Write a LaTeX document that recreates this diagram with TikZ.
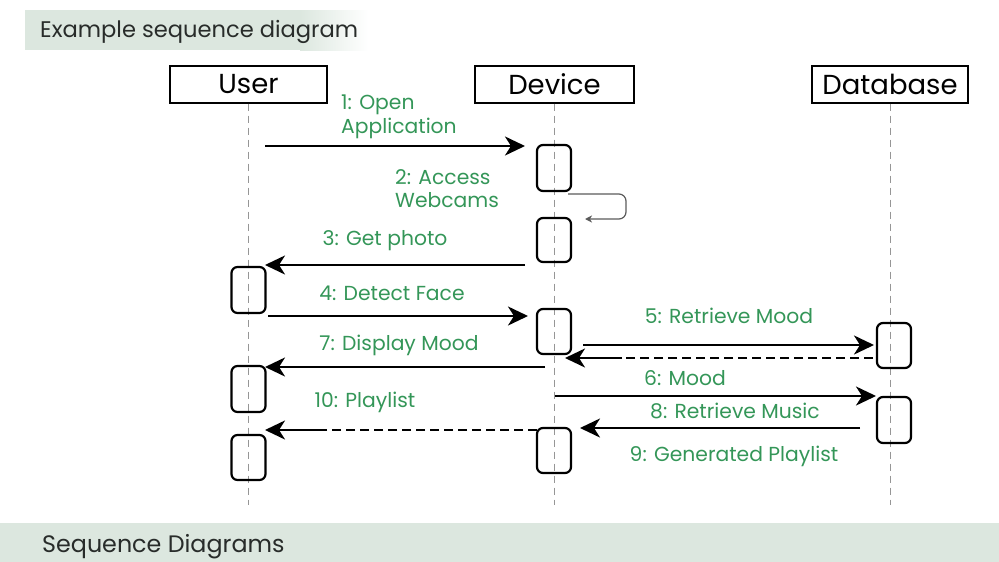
\documentclass[tikz,border=0pt]{standalone}
\usepackage{fontspec}
\setmainfont{Poppins}
\usetikzlibrary{arrows.meta}
\definecolor{lblgreen}{RGB}{52,150,88}
\definecolor{bandgreen}{RGB}{220,231,223}
\definecolor{lifegray}{RGB}{150,150,150}
\definecolor{selfgray}{RGB}{90,90,90}
\definecolor{headtext}{RGB}{40,44,42}
\tikzset{
  part/.style={draw, line width=1.4pt, minimum height=37pt, inner sep=0pt, font=\fontsize{27.5}{30}\selectfont},
  act/.style={draw, line width=2.2pt, rounded corners=6pt, minimum width=34pt, minimum height=45pt, inner sep=0pt},
  life/.style={draw=lifegray, line width=0.9pt, dash pattern=on 7pt off 5pt},
  msg/.style={line width=2.4pt, -{Stealth[length=20pt,width=19pt,inset=6pt]}},
  rmsg/.style={line width=2.4pt, dash pattern=on 9pt off 5pt},
  selfmsg/.style={draw=selfgray, line width=1.2pt, rounded corners=7pt, -{Stealth[length=7pt,width=7pt,inset=2pt]}},
  lbl/.style={text=lblgreen, font=\fontsize{20.3}{24}\selectfont, inner sep=0pt},
  head/.style={text=headtext, inner sep=0pt, anchor=base west}
}
\begin{document}
\begin{tikzpicture}[x=1pt,y=-1pt]
\useasboundingbox (0,0) rectangle (999,562);
% bands
\fill[bandgreen] (25,10) rectangle (300,50);
\shade[left color=bandgreen, right color=white] (300,10) rectangle (368,50);
\fill[bandgreen] (0,523) rectangle (999,562);
\node[head, font=\fontsize{22.6}{26}\selectfont] (title) at (40,37) {Example sequence diagram};
\node[head, font=\fontsize{23.8}{26}\selectfont] (footer) at (42,552) {Sequence Diagrams};
% participants
\node[part, minimum width=157pt] (user) at (248.5,84.5) {User};
\node[part, minimum width=159pt] (device) at (554.5,84.5) {Device};
\node[part, minimum width=156pt] (db) at (890,84.5) {Database};
% lifelines
\coordinate (uEnd) at (248.5,505);
\coordinate (dEnd) at (554.5,505);
\coordinate (bEnd) at (890,505);
\draw[life] (user) -- (uEnd);
\draw[life] (device) -- (dEnd);
\draw[life] (db) -- (bEnd);
% activations
\node[act, minimum height=46pt] (dA1) at (554,168) {};
\node[act, minimum height=44pt] (dA2) at (554,240) {};
\node[act, minimum height=46pt] (uA1) at (248.5,290) {};
\node[act] (dA3) at (554,331.5) {};
\node[act] (bA1) at (894,345.5) {};
\node[act, minimum height=46pt] (uA2) at (248.5,389) {};
\node[act, minimum height=46pt] (bA2) at (894,420) {};
\node[act] (uA3) at (248.5,457.5) {};
\node[act] (dA4) at (554,450.5) {};
% message end points
\coordinate (m1s) at (265,146); \coordinate (m1e) at (525,146);
\coordinate (m3s) at (525,265); \coordinate (m3e) at (265,265);
\coordinate (m4s) at (268,316); \coordinate (m4e) at (528,316);
\coordinate (m5s) at (583,345); \coordinate (m5e) at (874,345);
\coordinate (r5s) at (873,358); \coordinate (r5m) at (622,358); \coordinate (r5e) at (565,358);
\coordinate (m7s) at (545,367); \coordinate (m7e) at (265,367);
\coordinate (m6s) at (555,396); \coordinate (m6e) at (876,396);
\coordinate (m8s) at (860,428); \coordinate (m8e) at (580,428);
\coordinate (m10s) at (537,430); \coordinate (m10m) at (320,430); \coordinate (m10e) at (265,430);
\coordinate (s1) at (568,194); \coordinate (s2) at (626,194); \coordinate (s3) at (626,219); \coordinate (s4) at (585,219);
% messages
\draw[msg] (m1s) -- (m1e);
\draw[selfmsg] (s1) -- (s2) -- (s3) -- (s4);
\draw[msg] (m3s) -- (m3e);
\draw[msg] (m4s) -- (m4e);
\draw[msg] (m5s) -- (m5e);
\draw[rmsg] (r5s) -- (r5m);
\draw[msg] (r5m) -- (r5e);
\draw[msg] (m7s) -- (m7e);
\draw[msg] (m6s) -- (m6e);
\draw[msg] (m8s) -- (m8e);
\draw[rmsg] (m10s) -- (m10m);
\draw[msg] (m10m) -- (m10e);
% labels
\node[lbl, anchor=base west] (l1a) at (341,109) {1: Open};
\node[lbl, anchor=base west] (l1b) at (341,133) {Application};
\node[lbl, anchor=base west] (l2a) at (395,184) {2: Access};
\node[lbl, anchor=base west] (l2b) at (395,207) {Webcams};
\node[lbl, anchor=base] (l3) at (385,245) {3: Get photo};
\node[lbl, anchor=base] (l4) at (392,300) {4: Detect Face};
\node[lbl, anchor=base] (l5) at (729,323) {5: Retrieve Mood};
\node[lbl, anchor=base] (l7) at (399,350) {7: Display Mood};
\node[lbl, anchor=base] (l6) at (685,385) {6: Mood};
\node[lbl, anchor=base] (l10) at (365,407) {10: Playlist};
\node[lbl, anchor=base] (l8) at (735,418) {8: Retrieve Music};
\node[lbl, anchor=base] (l9) at (734,461) {9: Generated Playlist};
\end{tikzpicture}
\end{document}
